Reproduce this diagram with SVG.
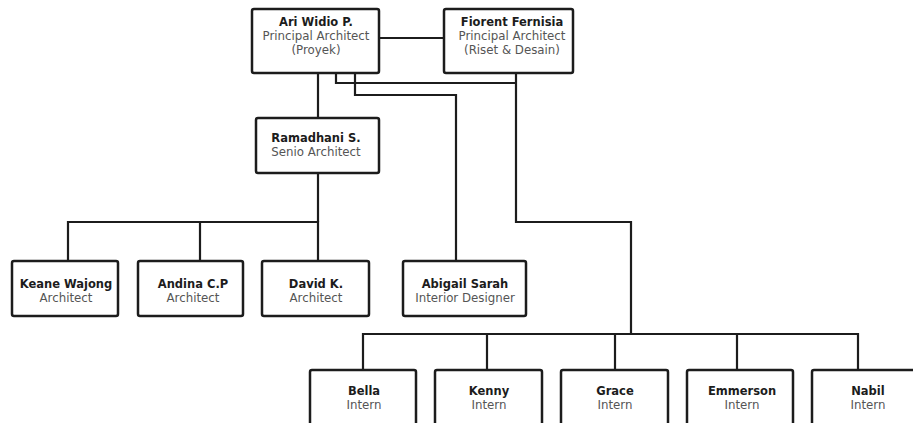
<svg xmlns="http://www.w3.org/2000/svg" width="913" height="423" viewBox="0 0 913 423">
<style>
.box{fill:#fff;stroke:#1c1c1c;stroke-width:2.5}
.ln{fill:none;stroke:#1c1c1c;stroke-width:2.2}
.n{font-family:"DejaVu Sans","Liberation Sans",sans-serif;font-weight:bold;font-size:11.5px;fill:#1c1c1c;text-anchor:middle}
.s{font-family:"DejaVu Sans","Liberation Sans",sans-serif;font-size:11.8px;fill:#555;text-anchor:middle}
</style>
<rect width="913" height="423" fill="#fff"/>
<g id="connectors" class="ln">
<path d="M379 38H444"/>
<path d="M318 73V118"/>
<path d="M336 73V83H516"/>
<path d="M516 73V222H631V334"/>
<path d="M355 73V95H456V261"/>
<path d="M318 173V222"/>
<path d="M68 261V222H318V261"/>
<path d="M200 222V261"/>
<path d="M363 370V334H858V370"/>
<path d="M487 334V370"/>
<path d="M615 334V370"/>
<path d="M737 334V370"/>
</g>
<g id="ari"><rect class="box" x="252" y="9" width="127" height="64" rx="2"/><text class="n" x="316" y="25.5">Ari Widio P.</text><text class="s" x="316" y="39.5">Principal Architect</text><text class="s" x="316" y="53.5">(Proyek)</text></g>
<g id="fiorent"><rect class="box" x="444" y="9" width="129" height="64" rx="2"/><text class="n" x="512" y="25.5">Fiorent Fernisia</text><text class="s" x="512" y="39.5">Principal Architect</text><text class="s" x="512" y="53.5">(Riset &amp; Desain)</text></g>
<g id="ramadhani"><rect class="box" x="256" y="118" width="123" height="55" rx="2"/><text class="n" x="316" y="142">Ramadhani S.</text><text class="s" x="316" y="156">Senio Architect</text></g>
<g id="keane"><rect class="box" x="12" y="261" width="106" height="55" rx="2"/><text class="n" x="66" y="288">Keane Wajong</text><text class="s" x="66" y="302">Architect</text></g>
<g id="andina"><rect class="box" x="138" y="261" width="105" height="55" rx="2"/><text class="n" x="193" y="288">Andina C.P</text><text class="s" x="193" y="302">Architect</text></g>
<g id="david"><rect class="box" x="262" y="261" width="107" height="55" rx="2"/><text class="n" x="316" y="288">David K.</text><text class="s" x="316" y="302">Architect</text></g>
<g id="abigail"><rect class="box" x="403" y="261" width="123" height="55" rx="2"/><text class="n" x="465" y="288">Abigail Sarah</text><text class="s" x="465" y="302">Interior Designer</text></g>
<g id="bella"><rect class="box" x="310" y="370" width="106" height="60" rx="2"/><text class="n" x="364" y="395">Bella</text><text class="s" x="364" y="409">Intern</text></g>
<g id="kenny"><rect class="box" x="435" y="370" width="107" height="60" rx="2"/><text class="n" x="489" y="395">Kenny</text><text class="s" x="489" y="409">Intern</text></g>
<g id="grace"><rect class="box" x="561" y="370" width="107" height="60" rx="2"/><text class="n" x="615" y="395">Grace</text><text class="s" x="615" y="409">Intern</text></g>
<g id="emmerson"><rect class="box" x="687" y="370" width="106" height="60" rx="2"/><text class="n" x="742" y="395">Emmerson</text><text class="s" x="742" y="409">Intern</text></g>
<g id="nabil"><rect class="box" x="812" y="370" width="110" height="60" rx="2"/><text class="n" x="868" y="395">Nabil</text><text class="s" x="868" y="409">Intern</text></g>
</svg>
